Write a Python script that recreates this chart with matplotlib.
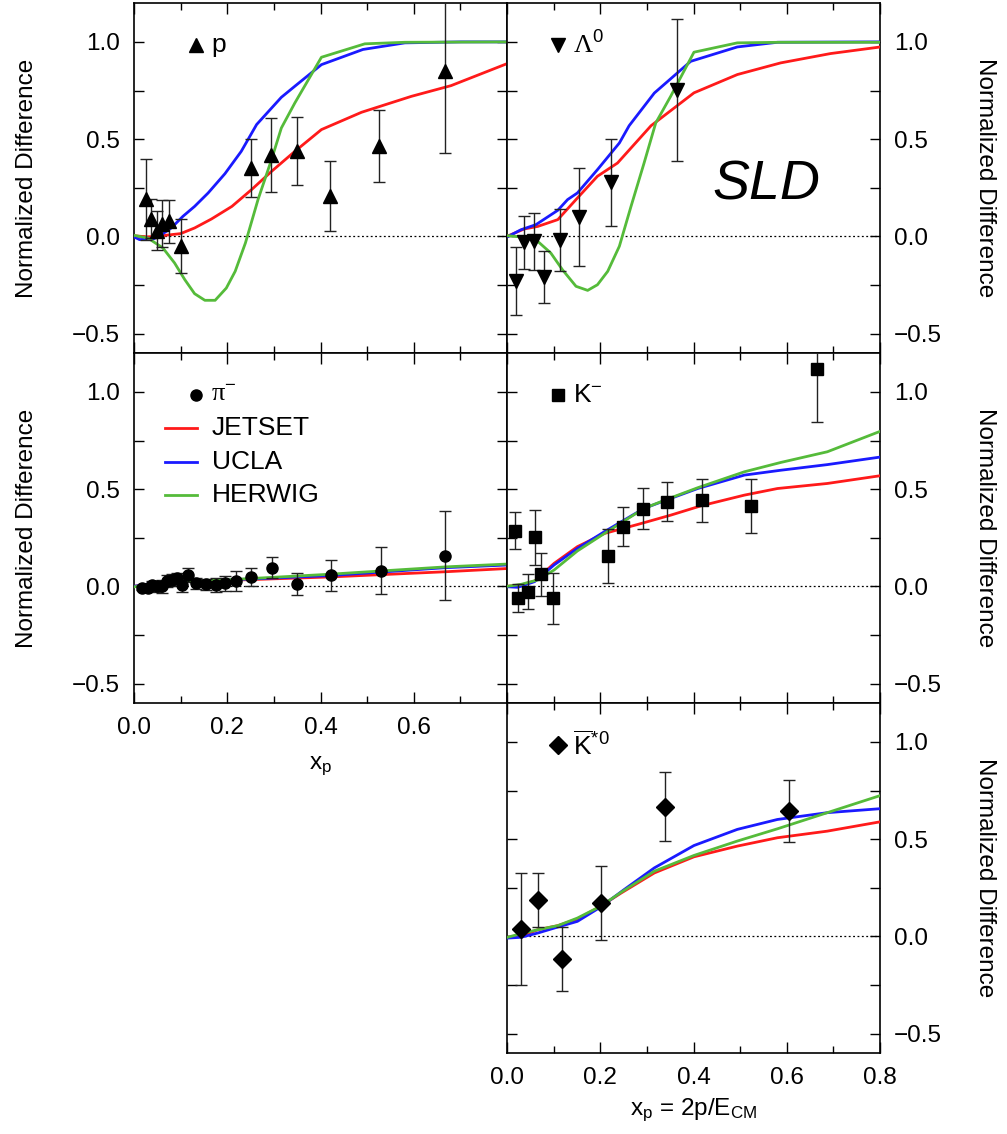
"""
SLD: normalized difference vs x_p for p, Lambda0, pi-, K-, K*0bar
with JETSET / UCLA / HERWIG predictions.
"""

import matplotlib

matplotlib.use("Agg")
import matplotlib.pyplot as plt
from matplotlib.ticker import MultipleLocator

plt.rcParams["font.family"] = ["Liberation Sans", "DejaVu Sans"]
plt.rcParams["mathtext.fontset"] = "custom"
plt.rcParams["mathtext.rm"] = "Liberation Sans"
plt.rcParams["mathtext.it"] = "Liberation Sans:italic"
plt.rcParams["mathtext.bf"] = "Liberation Sans:bold"

RED = "#ff1a1a"
BLUE = "#1a1aff"
GREEN = "#55bb3a"

# ---------------- proton ----------------
p_x = [0.026, 0.037, 0.049, 0.059, 0.074, 0.100, 0.250, 0.293, 0.349, 0.421, 0.526, 0.667]
p_y = [0.19, 0.09, 0.03, 0.065, 0.077, -0.05, 0.35, 0.42, 0.437, 0.206, 0.466, 0.85]
p_e = [0.21, 0.10, 0.10, 0.12, 0.11, 0.14, 0.15, 0.19, 0.175, 0.18, 0.185, 0.42]
p_jet_x = [0, 0.03, 0.059, 0.10, 0.13, 0.166, 0.21, 0.252, 0.295, 0.345, 0.402, 0.488, 0.595, 0.68, 0.8]
p_jet_y = [0.003, -0.003, 0.003, 0.014, 0.043, 0.089, 0.154, 0.24, 0.334, 0.437, 0.549, 0.638, 0.72, 0.775, 0.888]
p_ucla_x = [0, 0.012, 0.026, 0.041, 0.059, 0.080, 0.105, 0.130, 0.159, 0.195, 0.230, 0.263, 0.316,
            0.345, 0.402, 0.491, 0.581, 0.702, 0.8]
p_ucla_y = [-0.003, -0.017, -0.014, -0.014, 0.009, 0.043, 0.103, 0.154, 0.223, 0.322, 0.437, 0.575,
            0.715, 0.772, 0.883, 0.961, 0.995, 1.0, 1.0]
p_her_x = [0, 0.03, 0.062, 0.087, 0.109, 0.13, 0.152, 0.174, 0.198, 0.217, 0.239, 0.266, 0.295,
           0.316, 0.345, 0.402, 0.495, 0.581, 0.8]
p_her_y = [0.005, -0.009, -0.06, -0.137, -0.223, -0.295, -0.329, -0.329, -0.266, -0.18, -0.034,
           0.189, 0.395, 0.557, 0.686, 0.921, 0.99, 0.998, 1.0]

# ---------------- Lambda0 ----------------
l_x = [0.019, 0.037, 0.057, 0.080, 0.114, 0.155, 0.223, 0.364]
l_y = [-0.228, -0.031, -0.026, -0.21, -0.02, 0.10, 0.278, 0.751]
l_e = [0.175, 0.135, 0.145, 0.135, 0.16, 0.25, 0.225, 0.365]
l_jet_x = [0.003, 0.037, 0.066, 0.109, 0.151, 0.194, 0.237, 0.309, 0.401, 0.494, 0.587, 0.694, 0.798]
l_jet_y = [0.003, 0.038, 0.051, 0.086, 0.197, 0.309, 0.377, 0.569, 0.738, 0.832, 0.892, 0.94, 0.973]
l_ucla_x = [0.003, 0.03, 0.062, 0.109, 0.13, 0.151, 0.194, 0.241, 0.262, 0.316, 0.394, 0.494, 0.58, 0.798]
l_ucla_y = [0.0, 0.034, 0.06, 0.134, 0.189, 0.223, 0.343, 0.48, 0.569, 0.737, 0.9, 0.974, 0.998, 1.0]
l_her_x = [0.003, 0.037, 0.066, 0.094, 0.119, 0.148, 0.173, 0.194, 0.216, 0.241, 0.266, 0.294,
           0.319, 0.351, 0.401, 0.494, 0.587, 0.798]
l_her_y = [0.003, -0.005, -0.026, -0.086, -0.172, -0.257, -0.278, -0.249, -0.18, -0.051, 0.154,
           0.377, 0.583, 0.72, 0.947, 0.995, 0.998, 0.998]

# ---------------- pi- ----------------
pi_x = [0.018, 0.029, 0.039, 0.050, 0.061, 0.071, 0.082, 0.093, 0.104, 0.115, 0.132, 0.154,
        0.175, 0.196, 0.218, 0.251, 0.295, 0.349, 0.422, 0.529, 0.668]
pi_y = [-0.01, -0.01, 0.007, 0.0, 0.0, 0.027, 0.033, 0.041, 0.007, 0.058, 0.015, 0.01,
        0.007, 0.015, 0.027, 0.048, 0.096, 0.012, 0.058, 0.08, 0.158]
pi_e = [0.01, 0.01, 0.02, 0.03, 0.035, 0.03, 0.03, 0.03, 0.035, 0.035, 0.03, 0.03,
        0.035, 0.04, 0.05, 0.045, 0.055, 0.057, 0.08, 0.12, 0.23]
pi_jet_x = [0, 0.061, 0.204, 0.418, 0.668, 0.804]
pi_jet_y = [0, 0.02, 0.031, 0.048, 0.075, 0.092]
pi_ucla_x = [0, 0.061, 0.204, 0.418, 0.668, 0.804]
pi_ucla_y = [0, 0.024, 0.033, 0.055, 0.096, 0.11]
pi_her_x = [0, 0.061, 0.204, 0.418, 0.668, 0.804]
pi_her_y = [-0.003, 0.024, 0.034, 0.062, 0.10, 0.115]

# ---------------- K- ----------------
k_x = [0.017, 0.024, 0.046, 0.059, 0.073, 0.099, 0.216, 0.248, 0.291, 0.344, 0.419, 0.524, 0.664]
k_y = [0.286, -0.062, -0.027, 0.252, 0.062, -0.062, 0.156, 0.307, 0.40, 0.435, 0.443, 0.414, 1.12]
k_e = [0.094, 0.072, 0.09, 0.14, 0.11, 0.13, 0.137, 0.10, 0.107, 0.10, 0.11, 0.14, 0.277]
k_jet_x = [0, 0.03, 0.059, 0.101, 0.151, 0.209, 0.28, 0.351, 0.416, 0.509, 0.58, 0.687, 0.798]
k_jet_y = [0, 0.007, 0.027, 0.118, 0.204, 0.272, 0.318, 0.366, 0.414, 0.469, 0.503, 0.529, 0.568]
k_ucla_x = [0, 0.023, 0.059, 0.101, 0.151, 0.209, 0.294, 0.351, 0.409, 0.509, 0.587, 0.687, 0.798]
k_ucla_y = [-0.002, -0.005, 0.024, 0.11, 0.195, 0.281, 0.401, 0.452, 0.503, 0.572, 0.597, 0.626, 0.664]
k_her_x = [0, 0.03, 0.066, 0.101, 0.151, 0.209, 0.294, 0.351, 0.409, 0.509, 0.587, 0.687, 0.798]
k_her_y = [0, 0.01, 0.033, 0.084, 0.182, 0.272, 0.401, 0.455, 0.507, 0.589, 0.637, 0.692, 0.795]

# ---------------- K*0bar ----------------
ks_x = [0.031, 0.066, 0.117, 0.201, 0.339, 0.604]
ks_y = [0.038, 0.186, -0.115, 0.172, 0.667, 0.644]
ks_e = [0.29, 0.14, 0.165, 0.19, 0.177, 0.16]
ks_jet_x = [0.001, 0.03, 0.066, 0.109, 0.151, 0.201, 0.245, 0.316, 0.401, 0.494, 0.58, 0.687, 0.798]
ks_jet_y = [-0.005, 0.0, 0.034, 0.055, 0.089, 0.155, 0.223, 0.326, 0.409, 0.464, 0.507, 0.541, 0.588]
ks_ucla_x = [0.001, 0.03, 0.066, 0.109, 0.151, 0.201, 0.251, 0.316, 0.401, 0.494, 0.58, 0.687, 0.798]
ks_ucla_y = [-0.009, -0.005, 0.017, 0.048, 0.077, 0.151, 0.24, 0.352, 0.467, 0.55, 0.601, 0.636, 0.656]
ks_her_x = [0.001, 0.03, 0.066, 0.109, 0.151, 0.201, 0.245, 0.316, 0.401, 0.494, 0.58, 0.687, 0.798]
ks_her_y = [-0.005, 0.014, 0.034, 0.055, 0.094, 0.155, 0.227, 0.335, 0.416, 0.49, 0.553, 0.636, 0.722]

W, H = 1007, 1134
fig = plt.figure(figsize=(W / 100, H / 100), dpi=100)

XL, XR, PW = 134 / W, 507 / W, 373 / W
PH = 350 / H
ROWS = [1 - 353 / H, 1 - 703 / H, 1 - 1053 / H]
TICK_FS = 17.5
LABEL_FS = 17.5


def make_ax(left, bottom, right_labels, xlabels):
    ax = fig.add_axes([left, bottom, PW, PH])
    ax.set_xlim(0, 0.8)
    ax.set_ylim(-0.6, 1.2)
    ax.xaxis.set_major_locator(MultipleLocator(0.2))
    ax.xaxis.set_minor_locator(MultipleLocator(0.1))
    ax.yaxis.set_major_locator(MultipleLocator(0.5))
    ax.yaxis.set_minor_locator(MultipleLocator(0.25))
    ax.tick_params(which="both", direction="in", top=True, right=True, width=1,
                   labelsize=TICK_FS, pad=10)
    ax.tick_params(which="major", axis="x", length=8)
    ax.tick_params(which="minor", axis="x", length=5)
    ax.tick_params(which="both", axis="y", length=7)
    ax.yaxis.set_major_formatter(lambda v, p: f"{v:.1f}".replace("-", "\u2212"))
    ax.xaxis.set_major_formatter(lambda v, p: f"{v:.1f}")
    if right_labels:
        ax.tick_params(axis="y", labelleft=False, labelright=True)
        ax.yaxis.set_label_position("right")
        ax.set_ylabel("Normalized Difference", fontsize=LABEL_FS, rotation=270, va="center")
        ax.yaxis.set_label_coords((985 - 507) / 373, 0.5)
    else:
        ax.set_ylabel("Normalized Difference", fontsize=LABEL_FS, va="center")
        ax.yaxis.set_label_coords((27 - 134) / 373, 0.5)
    if not xlabels:
        ax.tick_params(axis="x", labelbottom=False)
    for s in ax.spines.values():
        s.set_linewidth(1.2)
    ax.axhline(0, color="k", lw=0.9, ls=(0, (1.5, 2)))
    return ax


def draw(ax, x, y, e, marker, ms, curves):
    for cx, cy, col in curves:
        ax.plot(cx, cy, color=col, lw=2.0, zorder=3)
    ax.errorbar(x, y, yerr=e, fmt=marker, color="k", ms=ms, ecolor="#222222",
                elinewidth=1, capsize=4, capthick=1, zorder=4)


def tag(ax, marker, ms, label, x0=0.137, fontsize=19, family=None):
    ax.plot([x0], [0.88], marker=marker, color="k", ms=ms, ls="none",
            transform=ax.transAxes, clip_on=False)
    kw = {} if family is None else {"family": family}
    ax.text(x0 + 0.04, 0.88, label, transform=ax.transAxes, fontsize=fontsize,
            va="center", ha="left", **kw)


# top-left: proton
ax1 = make_ax(XL, ROWS[0], False, False)
draw(ax1, p_x, p_y, p_e, "^", 10,
     [(p_jet_x, p_jet_y, RED), (p_ucla_x, p_ucla_y, BLUE), (p_her_x, p_her_y, GREEN)])
tag(ax1, "^", 10, "p", x0=0.166)

# top-right: Lambda0
ax2 = make_ax(XR, ROWS[0], True, False)
draw(ax2, l_x, l_y, l_e, "v", 10,
     [(l_jet_x, l_jet_y, RED), (l_ucla_x, l_ucla_y, BLUE), (l_her_x, l_her_y, GREEN)])
tag(ax2, "v", 10, "\u039b$^{0}$", family=["Liberation Serif", "DejaVu Serif"])
ax2.text(0.695, 0.48, "SLD", transform=ax2.transAxes, fontsize=40, style="italic",
         ha="center", va="center")

# mid-left: pi-
ax3 = make_ax(XL, ROWS[1], False, True)
draw(ax3, pi_x, pi_y, pi_e, "o", 8,
     [(pi_jet_x, pi_jet_y, RED), (pi_ucla_x, pi_ucla_y, BLUE), (pi_her_x, pi_her_y, GREEN)])
tag(ax3, "o", 8, "\u03c0$^{-}$", x0=0.166, family=["Liberation Serif", "DejaVu Serif"])
ax3.set_xticks([0.0, 0.2, 0.4, 0.6])
ax3.set_xlabel("x$_\\mathrm{p}$", fontsize=LABEL_FS, va="center")
ax3.xaxis.set_label_coords(0.5, (703 - 766) / 350)
for yy, name, col in [(0.786, "JETSET", RED), (0.689, "UCLA", BLUE), (0.594, "HERWIG", GREEN)]:
    ax3.plot([0.083, 0.169], [yy, yy], color=col, lw=2.0, transform=ax3.transAxes)
    ax3.text(0.209, yy, name, transform=ax3.transAxes, fontsize=19, va="center")

# mid-right: K-
ax4 = make_ax(XR, ROWS[1], True, False)
draw(ax4, k_x, k_y, k_e, "s", 9,
     [(k_jet_x, k_jet_y, RED), (k_ucla_x, k_ucla_y, BLUE), (k_her_x, k_her_y, GREEN)])
tag(ax4, "s", 9, "K$^{-}$")

# bottom-right: K*0bar
ax5 = make_ax(XR, ROWS[2], True, True)
draw(ax5, ks_x, ks_y, ks_e, "D", 9,
     [(ks_jet_x, ks_jet_y, RED), (ks_ucla_x, ks_ucla_y, BLUE), (ks_her_x, ks_her_y, GREEN)])
tag(ax5, "D", 9, r"$\overline{\mathrm{K}}^{*0}$")
ax5.set_xlabel("x$_\\mathrm{p}$ = 2p/E$_\\mathrm{CM}$", fontsize=LABEL_FS, va="center")
ax5.xaxis.set_label_coords(0.5, (1053 - 1110) / 350)

fig.savefig("out.png", dpi=100)
